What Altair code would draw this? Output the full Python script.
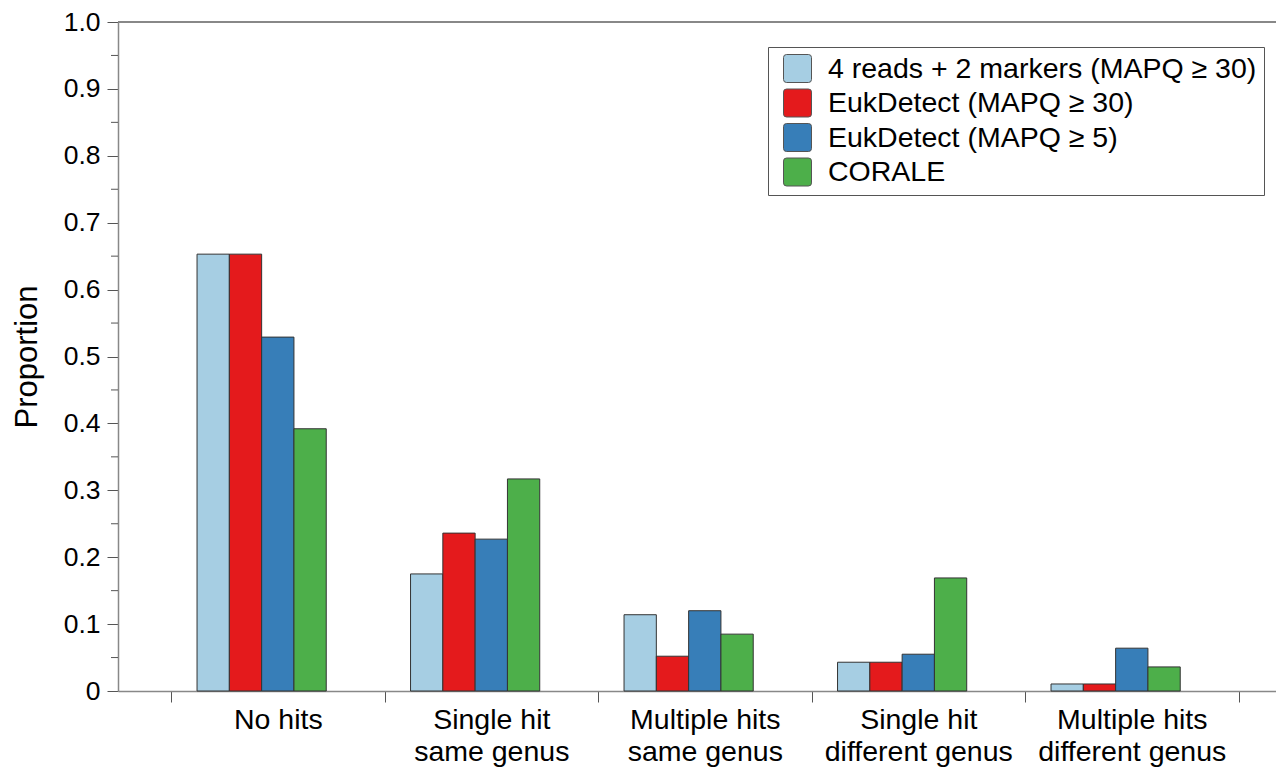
import altair as alt
import pandas as pd

categories = ["No hits", "Single hit\nsame genus", "Multiple hits\nsame genus",
              "Single hit\ndifferent genus", "Multiple hits\ndifferent genus"]
series_names = ["4 reads + 2 markers (MAPQ \u2265 30)", "EukDetect (MAPQ \u2265 30)",
                "EukDetect (MAPQ \u2265 5)", "CORALE"]
colors = ["#a6cee3", "#e41a1c", "#377eb8", "#4daf4a"]

reads_markers = [0.653, 0.175, 0.114, 0.043, 0.0105]
eukdetect_30 = [0.653, 0.236, 0.052, 0.043, 0.0105]
eukdetect_5 = [0.529, 0.227, 0.120, 0.055, 0.064]
corale = [0.392, 0.317, 0.085, 0.169, 0.036]

y_ticks = [0.0, 0.1, 0.2, 0.3, 0.4, 0.5, 0.6, 0.7, 0.8, 0.9, 1.0]
y_minor = [0.05, 0.15, 0.25, 0.35, 0.45, 0.55, 0.65, 0.75, 0.85, 0.95]

rows = []
for s, vals in zip(series_names, [reads_markers, eukdetect_30, eukdetect_5, corale]):
    for c, v in zip(categories, vals):
        rows.append({"category": c, "series": s, "value": v})
df = pd.DataFrame(rows)
minor_df = pd.DataFrame({"value": y_minor})

FONT = "Liberation Sans"
PLOT_W = 1158
PLOT_H = 669
rounded_square = ("M-0.78,-1 L0.78,-1 Q1,-1 1,-0.78 L1,0.78 Q1,1 0.78,1 "
                  "L-0.78,1 Q-1,1 -1,0.78 L-1,-0.78 Q-1,-1 -0.78,-1 Z")

y_scale = alt.Scale(domain=[0, 1], nice=False, zero=True)

bars = alt.Chart(df).mark_bar(stroke="#333333", strokeWidth=1).encode(
    x=alt.X("category:N", sort=categories,
            scale=alt.Scale(paddingInner=0, paddingOuter=0.212, align=0.586),
            axis=alt.Axis(title=None, tickBand="extent", labelAngle=0,
                          labelExpr="split(datum.label, '\\n')",
                          labelFont=FONT, labelFontSize=28.5, labelColor="black",
                          labelLineHeight=32, labelPadding=3, labelLimit=400,
                          tickSize=11, tickColor="#555555", tickWidth=1,
                          domainColor="#888888", domainWidth=1.5)),
    xOffset=alt.XOffset("series:N",
                        scale=alt.Scale(domain=series_names + ["_pad"],
                                        paddingInner=0, paddingOuter=0.805)),
    y=alt.Y("value:Q", scale=y_scale,
            axis=alt.Axis(title="Proportion", values=y_ticks, grid=False,
                          labelExpr="datum.value == 0 ? '0' : format(datum.value, '.1f')",
                          labelFont=FONT, labelFontSize=26.5, labelColor="black",
                          labelPadding=7, tickSize=11, tickColor="#555555",
                          domainColor="#888888", domainWidth=1.5,
                          titleFont=FONT, titleFontSize=31, titleFontWeight="normal",
                          titleColor="black", titlePadding=20)),
    color=alt.Color("series:N", sort=series_names,
                    scale=alt.Scale(domain=series_names, range=colors),
                    legend=alt.Legend(title=None, orient="none", legendX=650, legendY=25,
                                      strokeColor="#555555", fillColor="white",
                                      padding=7, symbolType=rounded_square,
                                      symbolSize=784, symbolStrokeColor="#555555",
                                      symbolStrokeWidth=1, symbolOpacity=1,
                                      symbolOffset=8,
                                      labelFont=FONT, labelFontSize=28.5,
                                      labelColor="black", labelOffset=16,
                                      rowPadding=1.5, labelLimit=600)),
)

minor = alt.Chart(minor_df).mark_rule(color="#555555", strokeWidth=1).encode(
    y=alt.Y("value:Q", scale=y_scale),
    x=alt.value(-7),
    x2=alt.value(0),
)

top_line = alt.Chart(minor_df).mark_rule(color="#888888", strokeWidth=1.5).encode(
    y=alt.value(0),
    x=alt.value(0),
    x2=alt.value(PLOT_W + 10),
)

chart = alt.layer(bars, minor, top_line).properties(
    width=PLOT_W, height=PLOT_H,
    autosize=alt.AutoSizeParams(type="none"),
    padding={"left": 110, "top": 14, "right": 0, "bottom": 78},
).configure_view(strokeWidth=0)

chart.save("out.html", embed_options={"renderer": "svg", "actions": False})
